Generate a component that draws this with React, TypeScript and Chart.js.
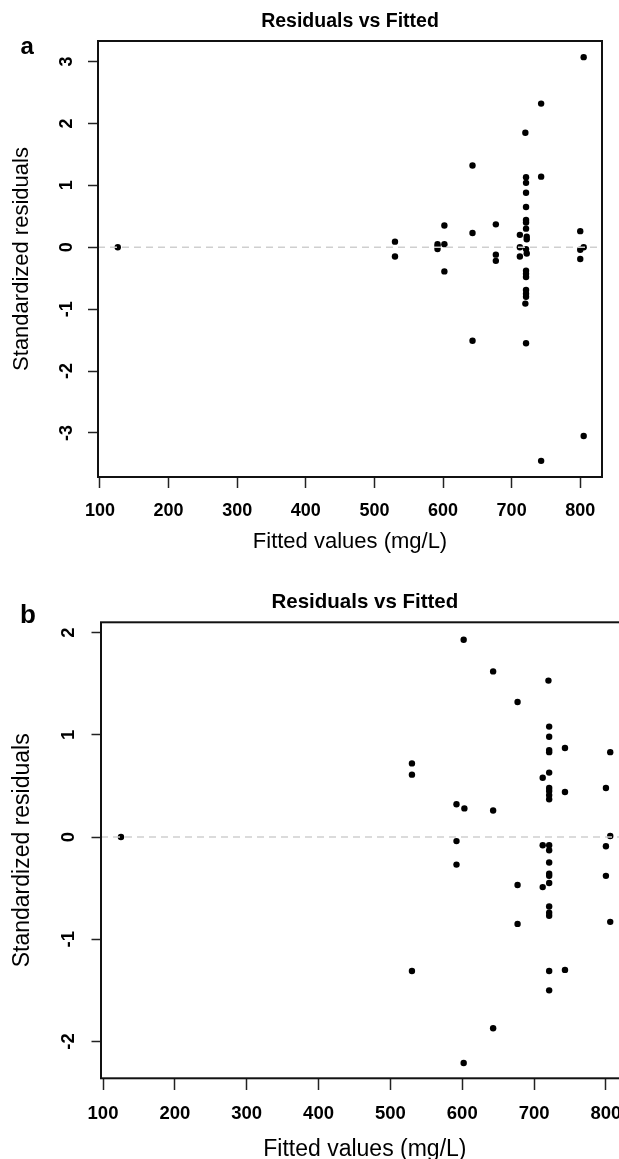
import React, { useEffect, useRef } from "react";
import { Chart, registerables } from "chart.js";

Chart.register(...registerables);

// ---------- data ----------
const chartTitle = "Residuals vs Fitted";
const xAxisTitle = "Fitted values (mg/L)";
const yAxisTitle = "Standardized residuals";
const xTickValues = [100, 200, 300, 400, 500, 600, 700, 800];
const yTickValuesA = [-3, -2, -1, 0, 1, 2, 3];
const yTickValuesB = [-2, -1, 0, 1, 2];

const fittedA = [
  126,
  530, 530,
  592, 592, 592,
  602, 602, 602,
  643, 643, 643,
  677, 677, 677,
  712, 712, 712,
  720, 721, 721, 721, 721, 721, 721, 721, 722, 722, 721, 722, 721, 721, 721, 721, 721, 721, 720, 721,
  743, 743, 743,
  800, 800, 800,
  805, 805, 805,
];
const residA = [
  0,
  0.09, -0.15,
  0.05, 0.01, -0.03,
  0.35, 0.05, -0.39,
  1.32, 0.23, -1.51,
  0.37, -0.12, -0.22,
  0.2, 0.0, -0.15,
  1.85, 1.13, 1.04, 0.88, 0.65, 0.44, 0.4, 0.3, 0.17, 0.13, -0.03, -0.1, -0.38, -0.43, -0.48, -0.69, -0.75, -0.8, -0.91, -1.55,
  2.32, 1.14, -3.45,
  0.26, -0.04, -0.19,
  3.07, 0.0, -3.05,
];

const fittedB = [
  125,
  530, 530, 530,
  592, 592, 592,
  602, 603, 602,
  643, 643, 643,
  677, 677, 677,
  712, 712, 712,
  720, 721, 721, 721, 721, 721, 721, 721, 721, 721, 721, 721, 721, 721, 721, 721, 721, 721, 721, 721, 721,
  743, 743, 743,
  800, 800, 800,
  806, 806, 806,
];
const residB = [
  0,
  0.72, 0.61, -1.31,
  0.32, -0.04, -0.27,
  1.93, 0.28, -2.21,
  1.62, 0.26, -1.87,
  1.32, -0.47, -0.85,
  0.58, -0.08, -0.49,
  1.53, 1.08, 0.98, 0.85, 0.83, 0.63, 0.48, 0.45, 0.41, 0.37, -0.08, -0.13, -0.25, -0.36, -0.38, -0.45, -0.68, -0.74, -0.77, -1.31, -1.5,
  0.87, 0.44, -1.3,
  0.48, -0.09, -0.38,
  0.83, 0.01, -0.83,
];

const FONT = "'Liberation Sans', Arial, Helvetica, sans-serif";

type PanelCfg = {
  label: string;
  labelFont: number;
  labelX: number;
  labelY: number;
  top: number;
  width: number;
  height: number;
  x: number[];
  y: number[];
  yTicks: number[];
  xMin: number;
  xMax: number;
  yMin: number;
  yMax: number;
  padRight: number;
  yAxisW: number;
  xAxisH: number;
  titleFont: number;
  titlePadTop: number;
  titlePadBottom: number;
  tickFont: number;
  xTickLen: number;
  yTickLen: number;
  xTickPad: number;
  yTickPad: number;
  axisTitleFont: number;
  xTitlePadBottom: number;
  yTitlePadTop: number;
};

const panelA: PanelCfg = {
  label: "a", labelFont: 24, labelX: 20.5, labelY: 54,
  top: 0, width: 619, height: 580,
  x: fittedA, y: residA, yTicks: yTickValuesA,
  xMin: 97.2, xMax: 831.7, yMin: -3.711, yMax: 3.331,
  padRight: 17, yAxisW: 98, xAxisH: 103,
  titleFont: 19.5, titlePadTop: 9.8, titlePadBottom: 7.8,
  tickFont: 18, xTickLen: 11, yTickLen: 10, xTickPad: 12.2, yTickPad: 13,
  axisTitleFont: 22, xTitlePadBottom: 25.1, yTitlePadTop: 8.8,
};

const panelB: PanelCfg = {
  label: "b", labelFont: 26, labelX: 20, labelY: 42.7,
  top: 580, width: 640, height: 579,
  x: fittedB, y: residB, yTicks: yTickValuesB,
  xMin: 97.2, xMax: 831.7, yMin: -2.36, yMax: 2.1,
  padRight: 11.3, yAxisW: 101, xAxisH: 80.7,
  titleFont: 20.5, titlePadTop: 9.7, titlePadBottom: 8.0,
  tickFont: 18.5, xTickLen: 11.7, yTickLen: 9.5, xTickPad: 12.9, yTickPad: 14.5,
  axisTitleFont: 23, xTitlePadBottom: -4.5, yTitlePadTop: 8.9,
};

function Panel({ cfg }: { cfg: PanelCfg }) {
  const ref = useRef<HTMLCanvasElement | null>(null);

  useEffect(() => {
    const canvas = ref.current;
    if (!canvas) return;

    const decor = {
      id: "decor",
      afterDatasetsDraw(chart: any) {
        const { ctx, chartArea } = chart;
        const yScale = chart.scales.y;
        const y0 = yScale.getPixelForValue(0);
        ctx.save();
        ctx.beginPath();
        ctx.rect(chartArea.left, chartArea.top, chartArea.right - chartArea.left, chartArea.bottom - chartArea.top);
        ctx.clip();
        ctx.strokeStyle = "#cfcfcf";
        ctx.lineWidth = 1.4;
        ctx.setLineDash([7, 5]);
        ctx.beginPath();
        ctx.moveTo(chartArea.left, y0);
        ctx.lineTo(chartArea.right, y0);
        ctx.stroke();
        ctx.restore();
      },
      afterDraw(chart: any) {
        const { ctx, chartArea } = chart;
        ctx.save();
        ctx.strokeStyle = "#111";
        ctx.lineWidth = 2;
        ctx.strokeRect(chartArea.left, chartArea.top, chartArea.right - chartArea.left, chartArea.bottom - chartArea.top);
        ctx.fillStyle = "#000";
        ctx.font = `bold ${cfg.labelFont}px ${FONT}`;
        ctx.textAlign = "left";
        ctx.textBaseline = "alphabetic";
        ctx.fillText(cfg.label, cfg.labelX, cfg.labelY);
        ctx.restore();
      },
    };

    const chart = new Chart(canvas, {
      type: "scatter",
      data: {
        datasets: [
          {
            data: cfg.x.map((v, i) => ({ x: v, y: cfg.y[i] })),
            backgroundColor: "#000",
            borderColor: "#000",
            borderWidth: 0,
            pointRadius: 3.2,
            pointHoverRadius: 3.2,
          },
        ],
      },
      options: {
        responsive: false,
        animation: false,
        devicePixelRatio: 1,
        layout: { padding: { left: 0, right: cfg.padRight, top: 0, bottom: 0 } },
        plugins: {
          legend: { display: false },
          tooltip: { enabled: false },
          title: {
            display: true,
            text: chartTitle,
            fullSize: false,
            color: "#000",
            font: { family: FONT, size: cfg.titleFont, weight: "bold", lineHeight: 1.2 },
            padding: { top: cfg.titlePadTop, bottom: cfg.titlePadBottom },
          },
        },
        scales: {
          x: {
            type: "linear",
            min: cfg.xMin,
            max: cfg.xMax,
            afterBuildTicks: (s: any) => {
              s.ticks = xTickValues.map((v) => ({ value: v }));
            },
            afterFit: (s: any) => {
              s.height = cfg.xAxisH;
            },
            ticks: {
              autoSkip: false,
              maxRotation: 0,
              minRotation: 0,
              color: "#000",
              padding: cfg.xTickPad,
              font: { family: FONT, size: cfg.tickFont, weight: "bold", lineHeight: 1.2 },
              callback: (v: any) => String(v),
            },
            grid: {
              display: true,
              drawOnChartArea: false,
              drawTicks: true,
              tickLength: cfg.xTickLen,
              tickWidth: 1.5,
              tickColor: "#222",
            },
            border: { display: false },
            title: {
              display: true,
              text: xAxisTitle,
              color: "#000",
              font: { family: FONT, size: cfg.axisTitleFont, weight: "normal", lineHeight: 1.2 },
              padding: { top: 0, bottom: cfg.xTitlePadBottom },
            },
          },
          y: {
            type: "linear",
            min: cfg.yMin,
            max: cfg.yMax,
            afterBuildTicks: (s: any) => {
              s.ticks = cfg.yTicks.map((v) => ({ value: v }));
            },
            afterFit: (s: any) => {
              s.width = cfg.yAxisW;
            },
            ticks: {
              autoSkip: false,
              minRotation: 90,
              maxRotation: 90,
              crossAlign: "center",
              color: "#000",
              padding: cfg.yTickPad,
              font: { family: FONT, size: cfg.tickFont, weight: "bold", lineHeight: 1.2 },
              callback: (v: any) => String(v),
            },
            grid: {
              display: true,
              drawOnChartArea: false,
              drawTicks: true,
              tickLength: cfg.yTickLen,
              tickWidth: 1.5,
              tickColor: "#222",
            },
            border: { display: false },
            title: {
              display: true,
              text: yAxisTitle,
              color: "#000",
              font: { family: FONT, size: cfg.axisTitleFont, weight: "normal", lineHeight: 1.2 },
              padding: { top: cfg.yTitlePadTop, bottom: 0 },
            },
          },
        },
      } as any,
      plugins: [decor],
    });

    return () => chart.destroy();
  }, [cfg]);

  return (
    <canvas
      ref={ref}
      width={cfg.width}
      height={cfg.height}
      style={{ position: "absolute", left: 0, top: cfg.top, width: cfg.width, height: cfg.height, display: "block" }}
    />
  );
}

export default function App() {
  return (
    <div
      style={{
        position: "fixed",
        left: 0,
        top: 0,
        width: 619,
        height: 1159,
        overflow: "hidden",
        background: "#fff",
      }}
    >
      <Panel cfg={panelA} />
      <Panel cfg={panelB} />
    </div>
  );
}
